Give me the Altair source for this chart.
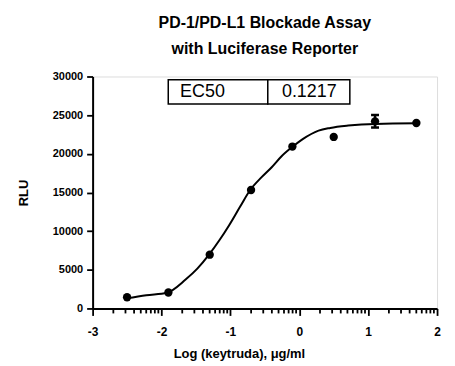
import altair as alt
import pandas as pd
import numpy as np

log_conc = [-2.5, -1.9, -1.3, -0.7, -0.1, 0.5, 1.1, 1.7]
rlu = [1450, 2060, 6950, 15320, 20940, 22180, 24200, 23990]
err_lo = [None, None, None, None, None, None, 23400, None]
err_hi = [None, None, None, None, None, None, 25020, None]

curve_x = [-2.51, -2.22, -1.92, -1.65, -1.48, -1.31, -1.16, -1.02, -0.86, -0.71,
           -0.55, -0.40, -0.25, -0.09, 0.05, 0.28, 0.45, 0.71, 1.10, 1.72]
curve_y = [1300, 1716, 2040, 3740, 5150, 6960, 8820, 10740, 13150, 15350,
           16950, 18270, 19750, 20970, 21900, 23000, 23350, 23650, 23870, 23940]

box_x = [-1.902, -0.457]
box_x2 = [-0.457, 0.734]
box_y = [26445, 26445]
box_y2 = [29580, 29580]
box_text = ["EC50", "0.1217"]
box_text_x = [-1.73, 0.146]
box_text_y = [28030, 28030]

x_major = [-3, -2, -1, 0, 1, 2]
x_minor = [round(d + float(np.log10(k)), 4) for d in range(-3, 2) for k in range(2, 10)]
y_ticks = [0, 5000, 10000, 15000, 20000, 25000, 30000]

FONT = "Liberation Sans"

pts = pd.DataFrame({"x": log_conc, "y": rlu})
errs = pd.DataFrame({"x": log_conc, "lo": err_lo, "hi": err_hi}).dropna()
curve = pd.DataFrame({"x": curve_x, "y": curve_y})
boxes = pd.DataFrame({"x": box_x, "x2": box_x2, "y": box_y, "y2": box_y2})
texts = pd.DataFrame({"x": box_text_x, "y": box_text_y, "t": box_text})
minor = pd.DataFrame({"x": x_minor})

xscale = alt.Scale(domain=[-3, 2], nice=False, zero=False)
yscale = alt.Scale(domain=[0, 30000], nice=False)

xaxis = alt.Axis(
    orient="bottom", values=x_major, tickCount=100, labelExpr="'' + datum.value",
    labelOverlap=False, tickSize=7, tickWidth=1.8, domainWidth=2, domainColor="black",
    tickColor="black", labelFont=FONT, labelFontWeight="bold", labelFontSize=12,
    labelColor="black", labelPadding=11, labelFlush=False,
    title="Log (keytruda), μg/ml", titleFont=FONT, titleFontWeight="bold",
    titleFontSize=13, titleColor="black", titlePadding=10, titleX=147, grid=False,
)
yaxis = alt.Axis(
    values=y_ticks, tickCount=100, format="d", labelOverlap=False, tickSize=6,
    tickWidth=1.8, domainWidth=2, domainColor="black", tickColor="black",
    labelFont=FONT, labelFontWeight="bold", labelFontSize=11, labelColor="black",
    labelPadding=4, title="RLU", titleFont=FONT, titleFontWeight="bold",
    titleFontSize=13, titleColor="black", titlePadding=22, grid=False,
)

line = alt.Chart(curve).mark_line(color="black", strokeWidth=2, interpolate="monotone").encode(
    x=alt.X("x:Q", scale=xscale, axis=xaxis),
    y=alt.Y("y:Q", scale=yscale, axis=yaxis),
)
minor_ticks = alt.Chart(minor).mark_tick(color="black", orient="vertical", size=5, thickness=1.8, opacity=1).encode(
    x="x:Q", y=alt.value(235.5)
)
dots = alt.Chart(pts).mark_point(filled=True, color="black", size=70, opacity=1, shape="circle").encode(
    x="x:Q", y="y:Q"
)
erule = alt.Chart(errs).mark_rule(color="black", strokeWidth=2.5).encode(
    x="x:Q", y="lo:Q", y2="hi:Q"
)
ecap_lo = alt.Chart(errs).mark_tick(color="black", orient="horizontal", size=8, thickness=2.5, opacity=1).encode(
    x="x:Q", y="lo:Q"
)
ecap_hi = alt.Chart(errs).mark_tick(color="black", orient="horizontal", size=8, thickness=2.5, opacity=1).encode(
    x="x:Q", y="hi:Q"
)
rects = alt.Chart(boxes).mark_rect(fill="white", stroke="black", strokeWidth=1.5).encode(
    x="x:Q", x2="x2:Q", y="y:Q", y2="y2:Q"
)
t_left = alt.Chart(texts.iloc[[0]]).mark_text(font=FONT, fontSize=18, align="left", baseline="middle", color="black").encode(
    x="x:Q", y="y:Q", text="t:N"
)
t_center = alt.Chart(texts.iloc[[1]]).mark_text(font=FONT, fontSize=18, align="center", baseline="middle", color="black").encode(
    x="x:Q", y="y:Q", text="t:N"
)

chart = alt.layer(line, minor_ticks, erule, ecap_lo, ecap_hi, dots, rects, t_left, t_center).properties(
    width=346,
    height=233,
    title=alt.TitleParams(
        text=["PD-1/PD-L1 Blockade Assay", "with Luciferase Reporter"],
        font=FONT, fontSize=16, fontWeight="bold", color="black",
        lineHeight=26, anchor="middle", offset=14,
    ),
    autosize=alt.AutoSizeParams(type="none"),
    padding={"left": 85, "top": 68, "right": 10, "bottom": 55},
).configure_view(stroke=None).configure(background="white")

chart.save("out.html", embed_options={"renderer": "svg", "actions": False})
